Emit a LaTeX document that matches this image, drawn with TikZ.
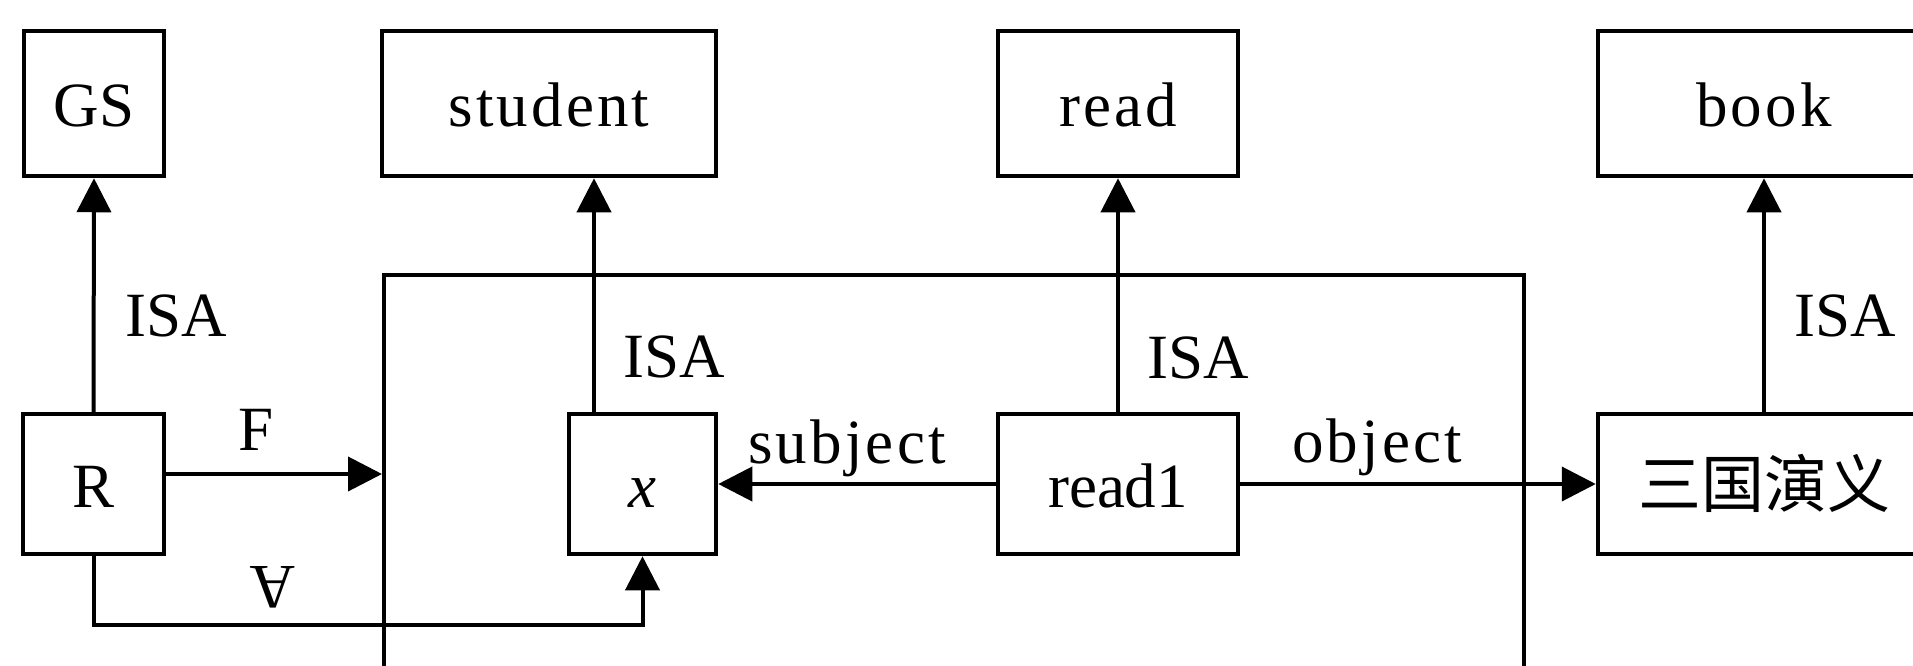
\documentclass[tikz,border=0pt]{standalone}
\usepackage{fontspec}
\setmainfont{Liberation Serif}
\newfontfamily\widefont[LetterSpace=5]{Liberation Serif}
\newfontfamily\cjk{Noto Sans CJK SC}
\usetikzlibrary{arrows.meta}

\begin{document}
\begin{tikzpicture}[x=1pt,y=-1pt,
  every node/.style={font=\fontsize{63}{70}\selectfont},
  box/.style={draw,line width=4.5pt,rectangle,inner sep=0pt,
    text height=46pt,text depth=0pt},
  toprow/.style={box,minimum height=145pt},
  botrow/.style={box,minimum height=140pt},
  arr/.style={line width=4pt,-{Triangle[length=34pt,width=34pt]}},
  lbl/.style={anchor=base,inner sep=0pt}]
\useasboundingbox (0,0) rectangle (1913,666);
\clip (0,0) rectangle (1913,666);

% top row of concept boxes
\node[toprow,minimum width=140pt] (GS)      at (94,103.5)   {GS};
\node[toprow,minimum width=334pt] (student) at (549,103.5)  {\widefont student};
\node[toprow,minimum width=240pt] (read)    at (1118,103.5) {\widefont read};
\node[toprow,minimum width=332pt] (book)    at (1764,103.5) {\widefont book};

% enclosing partition frame (runs past the lower edge)
\node[draw,line width=4pt,rectangle,inner sep=0pt,anchor=north west,
      minimum width=1140pt,minimum height=600pt] (frame) at (382,273) {};

% bottom row of instance boxes
\node[botrow,minimum width=141pt,fill=white] (R)     at (93.5,484)  {R};
\node[botrow,minimum width=147pt,fill=white] (x)     at (642.5,484) {\textit{x}};
\node[botrow,minimum width=240pt,fill=white] (read1) at (1118,484)  {read1};
\node[botrow,minimum width=332pt,fill=white] (sg)    at (1764,484)  {\cjk 三国演义};

% ISA links
\draw[arr] (R.north) -- (GS.south);
\draw[arr] ([xshift=-48.5pt]x.north) -- ([xshift=-48.5pt]x.north |- student.south);
\draw[arr] (read1.north) -- (read.south);
\draw[arr] (sg.north) -- (book.south);

% case relations
\draw[arr] (read1.west) -- (x.east);
\draw[arr] (read1.east) -- (sg.west);

% quantifier links from R
\draw[arr] ([yshift=10pt]R.east) -- ([yshift=10pt]R.east -| frame.west);
\draw[arr] (R.south) -- ++(0,69) -| (x.south);

% link labels
\node[lbl] (isaR)    at (176,336)  {ISA};
\node[lbl] (isaX)    at (674,377)  {ISA};
\node[lbl] (isaRd)   at (1198,378) {ISA};
\node[lbl] (isaBk)   at (1845,336) {ISA};
\node[lbl] (lblF)    at (256,450)  {F};
\node[inner sep=0pt] (lblAll) at (273,587) {\rotatebox{180}{A}};
\node[lbl] (lblSubj) at (847,463)  {\widefont subject};
\node[lbl] (lblObj)  at (1377,462) {\widefont object};
\end{tikzpicture}
\end{document}
